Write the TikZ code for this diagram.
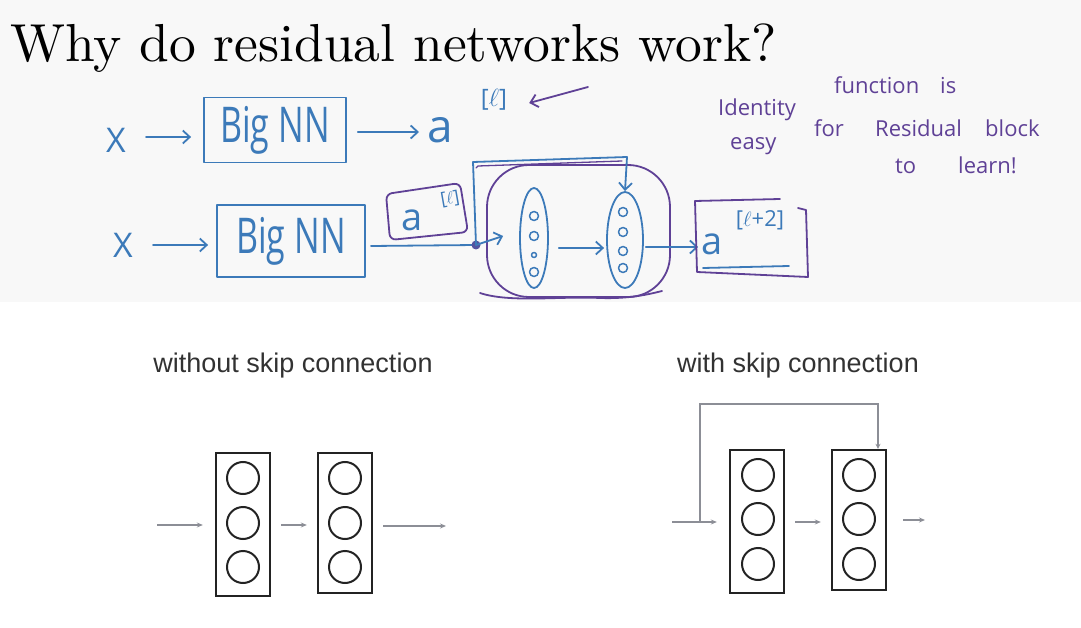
\documentclass[tikz,border=0pt]{standalone}
\usepackage{fontspec}
\newfontfamily\hand{Open Sans}
\newfontfamily\capfont{Liberation Sans}
\font\titlef="[lmroman10-regular]:mapping=tex-text" at 53.5pt
\usetikzlibrary{arrows.meta,calc,shapes.geometric}
\definecolor{hblue}{RGB}{60,122,185}
\definecolor{hpurp}{RGB}{95,65,150}
\definecolor{bggray}{RGB}{248,248,248}
\definecolor{arrgray}{RGB}{140,142,150}
\definecolor{boxdark}{RGB}{35,35,35}
\definecolor{captext}{RGB}{50,50,50}
\begin{document}
\begin{tikzpicture}[x=1pt,y=-1pt,
  ink/.style={line width=1.8pt,line cap=round,line join=round},
  bluepen/.style={ink,draw=hblue},
  purppen/.style={ink,draw=hpurp},
  handarrow/.style={-{Straight Barb[length=7pt,width=13pt,line width=1.8pt]}},
  bigtext/.style={font=\hand\fontsize{46}{48}\selectfont,text=hblue,inner sep=0pt},
  xtext/.style={font=\hand\fontsize{34}{36}\selectfont,text=hblue,inner sep=0pt},
  suptext/.style={font=\hand\fontsize{24}{26}\selectfont,text=hblue,inner sep=0pt},
  note/.style={font=\hand\fontsize{22}{24}\selectfont,text=hpurp,inner sep=0pt,anchor=base west},
  nnbox/.style={bluepen,draw,font=\hand\fontsize{34}{36}\selectfont,text=hblue,minimum width=142pt,minimum height=65pt,inner sep=0pt},
  caption/.style={font=\capfont\fontsize{27}{30}\selectfont,text=captext,inner sep=0pt,anchor=base},
  layerbox/.style={draw=boxdark,line width=2.4pt,minimum width=54pt,minimum height=143pt,inner sep=0pt},
  neuron/.style={circle,draw=boxdark,line width=2pt,minimum size=32pt,inner sep=0pt},
  thin/.style={draw=arrgray,line width=1.1pt,-{Stealth[length=6pt,width=5pt]}}
]
\useasboundingbox (0,0) rectangle (1081,628);
\fill[bggray] (0,0) rectangle (1081,302);

% title
\node[anchor=base west,inner sep=0pt,font=\titlef] (title) at (10,62) {Why do residual networks work?};

% ---------- row 1 ----------
\node[xtext] (x1) at (116,140) {X};
\node[nnbox] (bb1) at (275,130) {\scalebox{1}[1.45]{Big NN}};
\node[bigtext] (a1) at (440,130) {a};
\node[suptext] (s1) at (494,100) {[$\ell$]};
\draw[bluepen,handarrow] ($(x1.east)+(20,-3)$) -- ($(x1.east -| bb1.west)+(-12,-3)$);
\draw[bluepen,handarrow] ($(bb1.east)+(11,2)$) -- ($(bb1.east -| a1.west)+(-8,2)$);
\coordinate (parr0) at (588,87);
\draw[purppen,handarrow] (parr0) -- ($(s1.east)+(22,3)$);

% ---------- row 2 ----------
\node[xtext] (x2) at (123,245) {X};
\node[nnbox,minimum width=148pt,minimum height=72pt] (bb2) at (291,241) {\scalebox{1}[1.45]{Big NN}};
\draw[bluepen,handarrow] ($(x2.east)+(20,0)$) -- ($(x2.east -| bb2.west)+(-8,0)$);

\coordinate (dot) at (476,245);
\draw[bluepen] ($(bb2.east)+(5,5)$) -- (dot);
\fill[hpurp!70!hblue] (dot) circle (4.5);

% a[l] in purple box
\node[bigtext,font=\hand\fontsize{38}{40}\selectfont] (a2) at (412,220) {a};
\node[suptext,font=\hand\fontsize{18}{20}\selectfont,rotate=10] (s2) at (450,199) {[$\ell$]};
\draw[purppen,rounded corners=6pt] (386,194) -- (460,183) -- (468,232) -- (390,240) -- cycle;

% big purple oval around block
\draw[purppen,rounded corners=42pt] (487,165) rectangle (670,297);
\draw[purppen] (480,293) .. controls (510,303) and (560,296) .. (600,298) .. controls (630,299) and (650,294) .. (662,291);

% ellipses (layers)
\node[bluepen,draw,ellipse,minimum width=28pt,minimum height=100pt,inner sep=0pt] (e1) at (534,238) {};
\node[bluepen,draw,ellipse,minimum width=36pt,minimum height=96pt,inner sep=0pt] (e2) at (625,240) {};
\foreach \yy/\rr in {216/4.5,236/4.5,255/2.5,272/4.5}{\draw[bluepen,line width=1.5pt] (534,\yy) circle (\rr);}
\foreach \yy in {212,232,251,268}{\draw[bluepen,line width=1.5pt] (623,\yy) circle (4.5);}

\draw[bluepen,handarrow] (dot) -- ($(e1.west)+(-16,-2)$);
\draw[bluepen,handarrow] ($(e1.east)+(10,10)$) -- ($(e2.west)+(-2,8)$);

% skip connection
\coordinate (skl) at (473,162);
\coordinate (skr) at (627,157);
\draw[bluepen,handarrow] (dot) -- (skl) -- (skr) -- (e2.north);
\draw[purppen,line width=1.3pt] (476,168) -- (478,166) -- (622,161);

% output a[l+2]
\node[bigtext,font=\hand\fontsize{38}{40}\selectfont] (a3) at (712,244) {a};
\node[suptext,font=\hand\fontsize{22}{24}\selectfont] (s3) at (760,220) {[$\ell$+2]};
\draw[bluepen,handarrow] ($(e2.east)+(2,7)$) -- ($(e2.east -| a3.west)+(-3,7)$);
\draw[bluepen] (703,268) -- (789,266);
\draw[purppen] (780,199) -- (695,201) -- (697,272) -- (808,277) -- (806,210) -- (798,208);

% purple note
\node[note] (n1) at (718,116) {Identity};
\node[note] (n2) at (834,94) {function};
\node[note] (n3) at (940,94) {is};
\node[note] (n4) at (730,150) {easy};
\node[note] (n5) at (814,137) {for};
\node[note] (n6) at (875,137) {Residual};
\node[note] (n7) at (985,137) {block};
\node[note] (n8) at (895,174) {to};
\node[note] (n9) at (958,174) {learn!};

% ---------- bottom: without skip ----------
\node[caption] (c1) at (293,372) {without skip connection};
\node[layerbox] (L1) at (243,524.5) {};
\node[layerbox,minimum height=140pt] (L2) at (345,523) {};
\foreach \yy [count=\i] in {478,523,567}{
  \node[neuron] (L1n\i) at (243,\yy) {};
  \node[neuron] (L2n\i) at (345,\yy) {};
}
\coordinate (lin) at (157,525);
\coordinate (lout) at (446,526);
\draw[thin,shorten >=12pt] (lin) -- (lin -| L1.west);
\draw[thin,shorten <=10pt,shorten >=10pt] (L1.east |- lin) -- (L2.west |- lin);
\draw[thin,shorten <=10pt] (L2.east |- lout) -- (lout);

% ---------- bottom: with skip ----------
\node[caption] (c2) at (798,372) {with skip connection};
\node[layerbox] (R1) at (757,521.5) {};
\node[layerbox,minimum height=140pt] (R2) at (859,520) {};
\foreach \yy [count=\i] in {475,519,564}{
  \node[neuron] (R1n\i) at (758,\yy) {};
  \node[neuron] (R2n\i) at (859,\yy) {};
}
\coordinate (rin) at (672,522);
\coordinate (split) at (700,522);
\coordinate (skiptop) at (878,404);
\coordinate (rout) at (925,520);
\draw[thin,shorten >=12pt] (rin) -- (rin -| R1.west);
\draw[thin,-{Stealth[length=5pt,width=5pt]}] (split) |- (skiptop) -- (skiptop |- R2.north);
\draw[thin,shorten <=10pt,shorten >=10pt] (R1.east |- rin) -- (R2.west |- rin);
\draw[thin,shorten <=16pt] (R2.east |- rout) -- (rout);
\end{tikzpicture}
\end{document}
